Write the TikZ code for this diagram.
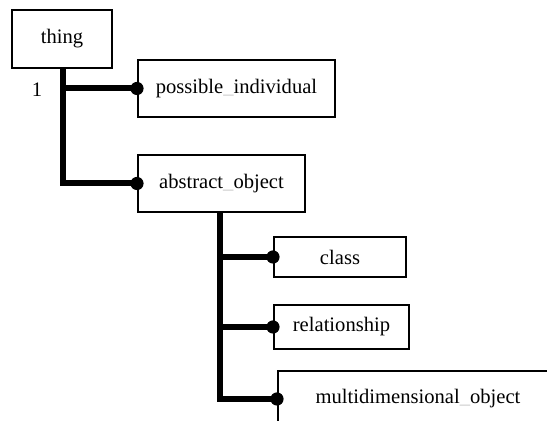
\documentclass[tikz,border=0pt]{standalone}
\usepackage{fontspec}
\setmainfont{Liberation Serif}
\begin{document}
\begin{tikzpicture}[x=0.5pt,y=-0.5pt,
  box/.style={draw=black,line width=1pt,fill=white,inner sep=0pt,font=\fontsize{10.3}{12}\selectfont},
  trunk/.style={line width=3pt},
  dotc/.style={fill=black}]
\useasboundingbox (0,0) rectangle (547,421);
\clip (0,0) rectangle (547,421);
\fill[white] (0,0) rectangle (547,421);
\newcommand{\us}{\textcolor{black!20}{\_}}
\node[box,minimum width=50pt,minimum height=29pt] (thing) at (62,39) {thing};
\node[box,minimum width=98.5pt,minimum height=28.5pt] (poss) at (236.5,88.5) {possible\us individual};
\node[box,minimum width=83.5pt,minimum height=28.5pt] (abs) at (221.5,183.5) {abstract\us object};
\node[box,minimum width=66pt,minimum height=20pt] (cls) at (340,257) {class};
\node[box,minimum width=67.5pt,minimum height=22pt] (rel) at (341.5,327) {relationship};
\node[box,minimum width=136pt,minimum height=28pt] (multi) at (414,399) {\hspace*{4pt}multidimensional\us object};
\node[font=\fontsize{10.3}{12}\selectfont] (one) at (37,90) {1};
% connectors
\draw[trunk] ([xshift=0.5pt]thing.south) |- (abs.west);
\draw[trunk] ([xshift=0.5pt]thing.south |- poss.west) -- (poss.west);
\draw[trunk] ([xshift=-0.75pt]abs.south) |- (multi.west);
\draw[trunk] ([xshift=-0.75pt]abs.south |- cls.west) -- (cls.west);
\draw[trunk] ([xshift=-0.75pt]abs.south |- rel.west) -- (rel.west);
\foreach \n in {poss,abs,cls,rel,multi} \fill[dotc] (\n.west) circle (3.3pt);
\end{tikzpicture}
\end{document}
